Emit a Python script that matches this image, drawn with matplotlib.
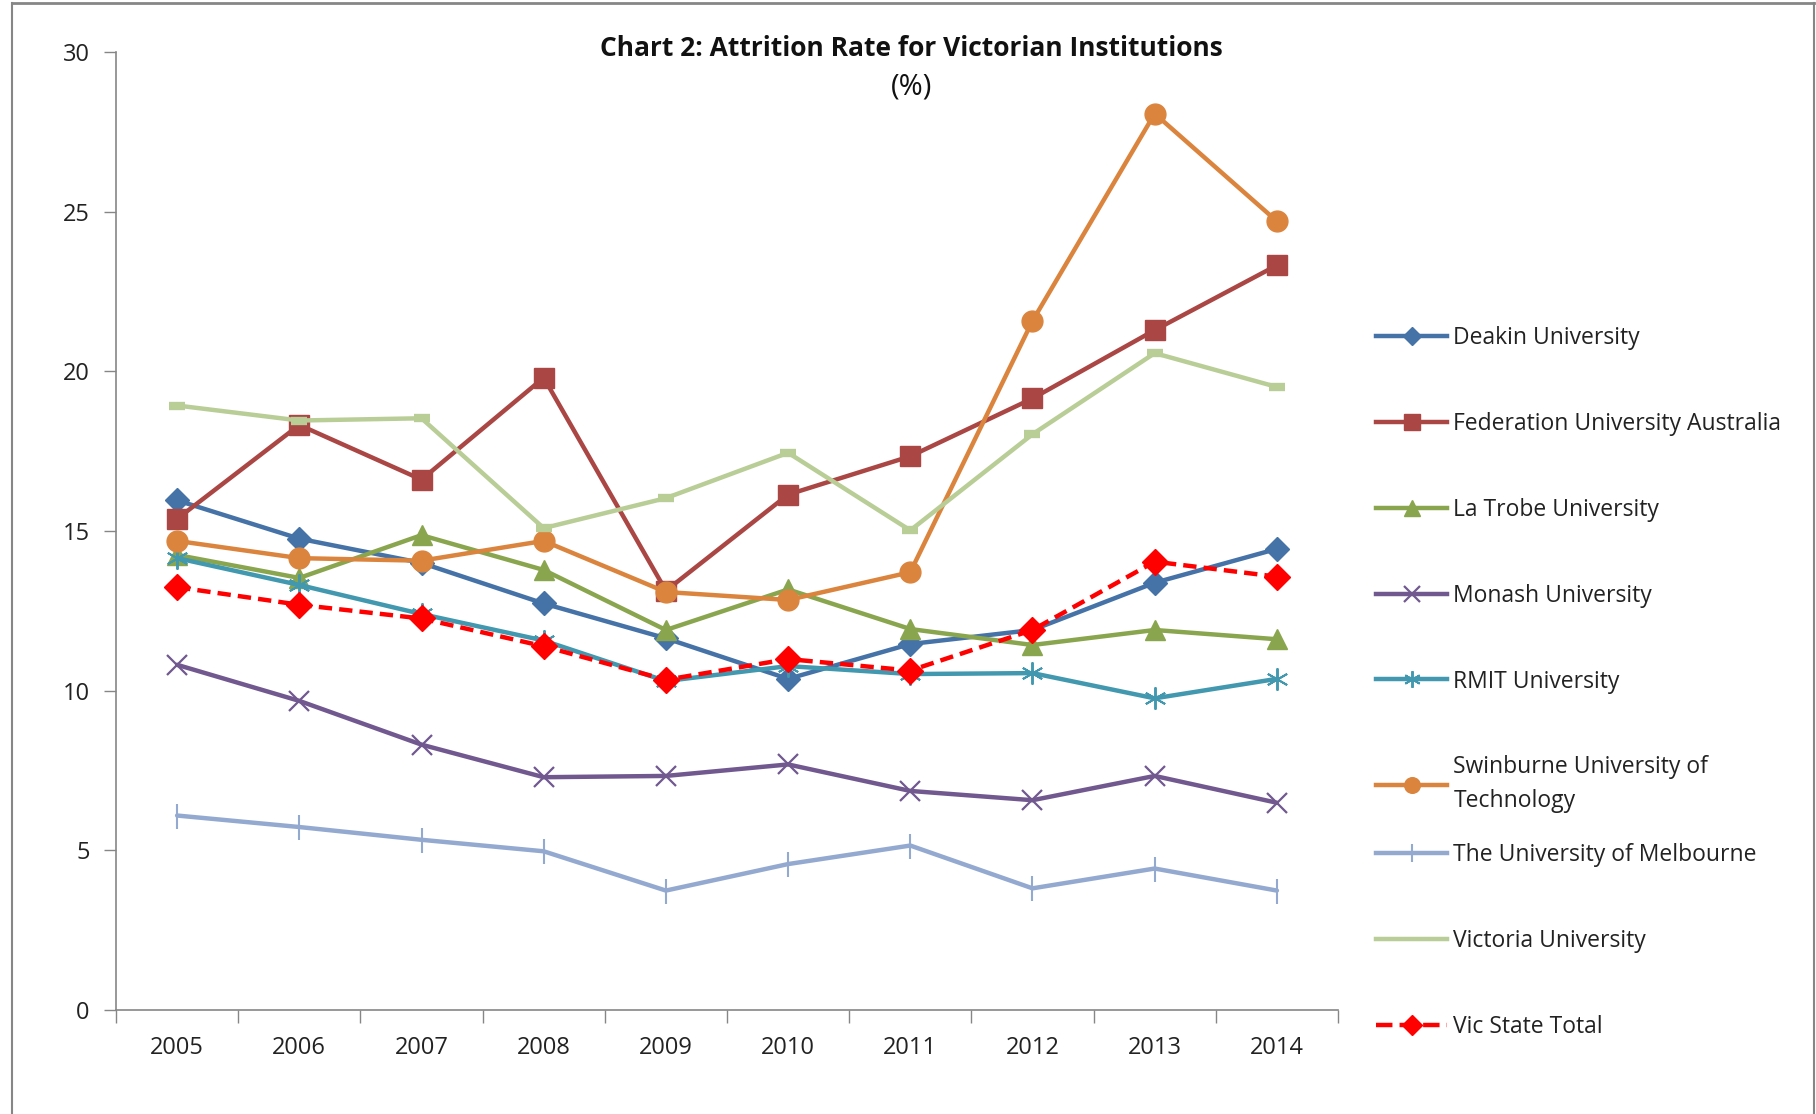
import matplotlib
matplotlib.use("Agg")
import matplotlib.pyplot as plt
from matplotlib.lines import Line2D

plt.rcParams['font.family'] = ['Open Sans', 'DejaVu Sans']

years = ["2005", "2006", "2007", "2008", "2009", "2010", "2011", "2012", "2013", "2014"]

deakin     = [15.96, 14.76, 14.00, 12.73, 11.64, 10.37, 11.46, 11.90, 13.38, 14.44]
federation = [15.38, 18.32, 16.61, 19.80, 13.13, 16.14, 17.34, 19.15, 21.29, 23.32]
latrobe    = [14.25, 13.53, 14.87, 13.78, 11.90, 13.17, 11.93, 11.43, 11.90, 11.61]
monash     = [10.81, 9.68, 8.31, 7.29, 7.33, 7.69, 6.86, 6.57, 7.33, 6.49]
rmit       = [14.15, 13.31, 12.40, 11.57, 10.30, 10.77, 10.52, 10.55, 9.76, 10.37]
swinburne  = [14.69, 14.15, 14.07, 14.69, 13.09, 12.84, 13.71, 21.58, 28.07, 24.70]
melbourne  = [6.09, 5.73, 5.33, 4.97, 3.74, 4.57, 5.15, 3.81, 4.43, 3.74]
victoria   = [18.93, 18.46, 18.53, 15.09, 16.03, 17.45, 15.02, 18.03, 20.57, 19.51]
vic_total  = [13.24, 12.69, 12.26, 11.39, 10.34, 10.99, 10.63, 11.90, 14.04, 13.57]

labels = ["Deakin University", "Federation University Australia", "La Trobe University",
          "Monash University", "RMIT University", "Swinburne University of\nTechnology",
          "The University of Melbourne", "Victoria University", "Vic State Total"]

title = "Chart 2: Attrition Rate for Victorian Institutions"
subtitle = "(%)"

fig = plt.figure(figsize=(18.16, 11.14), dpi=100)
ax = fig.add_axes([116/1816, 104/1114, 1222/1816, 958/1114])

lw = 3.2
styles = [
    dict(color="#4572A7", marker="D", ms=12),
    dict(color="#AA4643", marker="s", ms=15),
    dict(color="#89A54E", marker="^", ms=15),
    dict(color="#71588F", marker="x", ms=15, mew=1.6),
    dict(color="#4198AF", marker=(6, 2, 0), ms=16, mew=1.4),
    dict(color="#DB843D", marker="o", ms=15),
    dict(color="#93A9CF", marker="|", ms=18, mew=1.5),
    dict(color="#B9CD96", marker="_", ms=12, mew=6),
    dict(color="#FF0000", marker="D", ms=13, ls=(0, (3, 1.6))),
]
series = [deakin, federation, latrobe, monash, rmit, swinburne, melbourne, victoria, vic_total]

handles = []
for vals, st, lab in zip(series, styles, labels):
    st = dict(st)
    ls = st.pop("ls", "-")
    h, = ax.plot(years, vals, lw=lw, ls=ls, label=lab, solid_capstyle="round", **st)
    handles.append(h)

ax.set_xlim(-0.5, len(years) - 0.5)
ax.set_ylim(0, 30)
ax.set_yticks([0, 5, 10, 15, 20, 25, 30])
ax.set_xticks([i - 0.5 for i in range(len(years) + 1)])
ax.set_xticks(range(len(years)), minor=True)
ax.set_xticklabels([""] * (len(years) + 1))
ax.set_xticklabels(years, minor=True)
ax.tick_params(axis="x", which="major", length=9, width=1, color="#868686", direction="out")
ax.tick_params(axis="x", which="minor", length=0, pad=18.5, labelsize=17, labelcolor="#222222")
ax.tick_params(axis="y", length=9, width=1, color="#868686", direction="out", pad=10,
               labelsize=17, labelcolor="#222222")

for s in ["top", "right"]:
    ax.spines[s].set_visible(False)
for s in ["left", "bottom"]:
    ax.spines[s].set_color("#868686")
    ax.spines[s].set_linewidth(1.2)

# Legend handles (Victoria shows no marker)
leg_handles = []
for h, st in zip(handles, styles):
    lh = Line2D([], [], color=h.get_color(), lw=lw, ls=h.get_linestyle(),
                marker=h.get_marker() if st["marker"] != "_" else None,
                ms=h.get_markersize() * 0.75, mew=h.get_markeredgewidth())
    leg_handles.append(lh)

common = dict(frameon=False, fontsize=16.5, handlelength=3.1, handletextpad=0.28,
              borderpad=0, borderaxespad=0, labelspacing=2.7, loc="upper left")
leg1 = fig.legend(leg_handles[:6], labels[:6], bbox_to_anchor=(1376/1816, 1 - 326/1114), **common)
leg1.get_texts()[5].set_linespacing(1.55)
leg2 = fig.legend(leg_handles[6:], labels[6:], bbox_to_anchor=(1376/1816, 1 - 843/1114), **common)
for t in list(leg1.get_texts()) + list(leg2.get_texts()):
    t.set_color("#222222")

fig.text(0.502, 1 - 48/1114, title, ha="center", va="center", fontsize=19, fontweight="bold",
         color="#111111")
fig.text(0.502, 1 - 87/1114, subtitle, ha="center", va="center", fontsize=21, color="#111111")

# chart border
bc = "#868686"
fig.add_artist(Line2D([12/1816, 1814/1816], [1 - 3/1114, 1 - 3/1114], transform=fig.transFigure, color=bc, lw=2))
fig.add_artist(Line2D([12/1816, 12/1816], [0, 1 - 3/1114], transform=fig.transFigure, color=bc, lw=1.5))
fig.add_artist(Line2D([1814/1816, 1814/1816], [0, 1 - 3/1114], transform=fig.transFigure, color=bc, lw=1.5))

fig.savefig("out.png", dpi=100)
